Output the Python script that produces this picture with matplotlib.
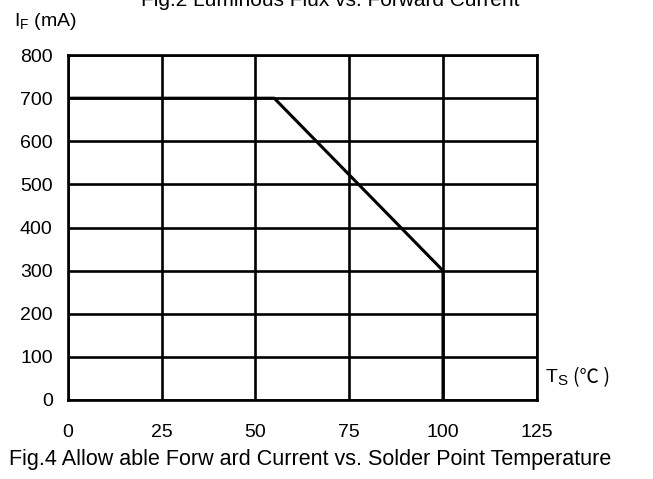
import numpy as np
import matplotlib.pyplot as plt

plt.rcParams['font.family'] = ['Liberation Sans', 'DejaVu Sans']

# derating curve
temp = [0, 55, 100, 100]
current = [700, 700, 300, 0]
xticks = [0, 25, 50, 75, 100, 125]
yticks = [0, 100, 200, 300, 400, 500, 600, 700, 800]

fig = plt.figure(figsize=(6.53, 4.79), dpi=100)
ax = fig.add_axes([0.104, 0.165, 0.718, 0.72])

ax.set_xlim(0, 125)
ax.set_ylim(0, 800)
ax.set_xticks(xticks)
ax.set_yticks(yticks)
ax.grid(True, color='black', linewidth=1.9)
ax.set_axisbelow(True)
for s in ax.spines.values():
    s.set_linewidth(1.9)
ax.tick_params(length=0, labelsize=14)
ax.tick_params(axis='y', pad=11)
ax.tick_params(axis='x', pad=17)

ax.plot(temp, current, color='black', linewidth=2.2, solid_capstyle='butt', zorder=3)

fig.text(0.022, 0.955, r'I$_\mathregular{F}$ (mA)', fontsize=14, va='center')
fig.text(0.835, 0.212, 'T', fontsize=14, va='center')
fig.text(0.853, 0.205, 'S', fontsize=11, va='center')
fig.text(0.878, 0.212, '(℃ )', fontsize=14, va='center',
         family=['Noto Sans CJK SC', 'DejaVu Sans'])
fig.text(0.505, 1.0, 'Fig.2 Luminous Flux vs. Forward Current', fontsize=15, ha='center', va='center')
fig.text(0.475, 0.04, 'Fig.4 Allow able Forw ard Current vs. Solder Point Temperature', fontsize=15.5, ha='center', va='center')

fig.savefig('out.png', dpi=100)
